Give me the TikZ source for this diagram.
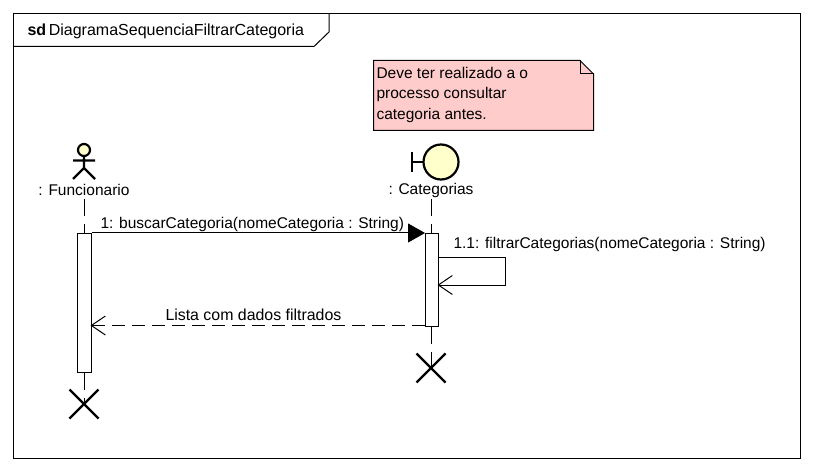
\documentclass[tikz,border=0pt]{standalone}
\usepackage{fontspec}
\setmainfont{Liberation Sans}
\usetikzlibrary{positioning,arrows.meta,calc}
\definecolor{notapink}{RGB}{255,204,204}
\definecolor{corpoamarelo}{RGB}{255,255,204}
\tikzset{
    rotulo/.style={inner sep=0pt, font=\fontsize{15.5}{18}\selectfont},
    ativacao/.style={draw, line width=1pt, fill=white, minimum width=14pt, inner sep=0pt, anchor=north},
    vida/.style={line width=1pt, dash pattern=on 17pt off 8pt},
    sincrona/.style={-{Triangle[length=17pt,width=19pt]}, line width=1pt},
    aberta/.style={-{Straight Barb[length=14pt,width=19pt,line width=1pt]}, line width=1pt, shorten >=-1.5pt},
    retorno/.style={aberta, dash pattern=on 13pt off 7pt},
    cruz/.style={line width=2.2pt}
}
\begin{document}
\begin{tikzpicture}[x=1pt, y=-1pt, line width=1pt]
    \useasboundingbox (0, 0) rectangle (813, 470);

    % moldura
    \draw (13.5, 13.5) rectangle (800.5, 458);
    \draw (13.5, 46.5) -- (314, 46.5) -- (329, 32) -- (329, 13.5);
    \node[rotulo, anchor=base west, font=\fontsize{16}{18}\selectfont] (titulo) at (27, 36) {\textbf{sd}\,DiagramaSequenciaFiltrarCategoria};

    % nota
    \draw[fill=notapink] (373.5, 60.5) -- (580, 60.5) -- (593.5, 74) -- (593.5, 130.5) -- (373.5, 130.5) -- cycle;
    \draw (580, 60.5) -- (580, 74) -- (593.5, 74);
    \node[rotulo, anchor=base west] (nota1) at (376, 79) {Deve ter realizado a o};
    \node[rotulo, anchor=base west] (nota2) at (376, 99) {processo consultar};
    \node[rotulo, anchor=base west] (nota3) at (376, 119.5) {categoria antes.};

    % ator
    \draw[line width=2.2pt, fill=corpoamarelo] (84, 150) circle (6);
    \draw[line width=2.2pt] (84, 156) -- (84, 169) (73, 160.5) -- (95, 160.5) (73, 179) -- (84, 168) -- (95, 179);
    \node[rotulo] (funcionario) at (84, 190) {: Funcionario};

    % fronteira
    \draw[line width=2.2pt, fill=corpoamarelo] (441, 162) circle (17.5);
    \draw[line width=2.2pt] (412, 152) -- (412, 172.5) (412, 162) -- (423.5, 162);
    \node[rotulo] (categorias) at (431, 190) {: Categorias};

    % ativacoes
    \node[ativacao, minimum height=139pt] (ativFunc) at (84.5, 233) {};
    \node[ativacao, minimum height=93pt, minimum width=13pt] (ativCat) at (432, 233) {};

    % linhas de vida
    \coordinate (fimFunc) at (84, 404);
    \coordinate (fimCat) at (431, 368);
    \draw[vida] (84, 199) -- (ativFunc.north -| 84, 233);
    \draw[vida] (ativFunc.south -| fimFunc) -- (fimFunc);
    \draw[vida] (431, 199) -- (ativCat.north -| 431, 233);
    \draw[vida] (ativCat.south -| fimCat) -- (fimCat);

    % destruicao
    \draw[cruz] ($(fimFunc)+(-14.5,-14.5)$) -- ($(fimFunc)+(14.5,14.5)$);
    \draw[cruz] ($(fimFunc)+(-14.5,14.5)$) -- ($(fimFunc)+(14.5,-14.5)$);
    \draw[cruz] ($(fimCat)+(-14.5,-14.5)$) -- ($(fimCat)+(14.5,14.5)$);
    \draw[cruz] ($(fimCat)+(-14.5,14.5)$) -- ($(fimCat)+(14.5,-14.5)$);

    % mensagens
    \draw[sincrona] (ativFunc.north east) -- (ativCat.north west);
    \node[rotulo, anchor=base west] (msg1) at (100, 228.5) {1: buscarCategoria(nomeCategoria : String)};

    \coordinate (voltaA) at (505.5, 257);
    \coordinate (voltaB) at (505.5, 285);
    \draw[aberta] (ativCat.east |- voltaA) -- (voltaA) -- (voltaB) -- (ativCat.east |- voltaB);
    \node[rotulo, anchor=base west] (msg2) at (453, 248.5) {1.1: filtrarCategorias(nomeCategoria : String)};

    \coordinate (retornoY) at (0, 325.5);
    \draw[retorno] (ativCat.west |- retornoY) -- (ativFunc.east |- retornoY);
    \node[rotulo, anchor=base west, font=\fontsize{15.9}{18}\selectfont] (msg3) at (165, 320.5) {Lista com dados filtrados};
\end{tikzpicture}
\end{document}
